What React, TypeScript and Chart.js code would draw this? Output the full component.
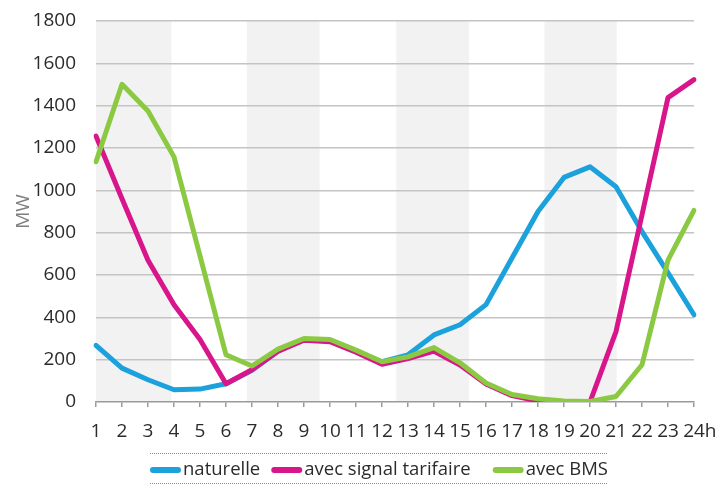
import { useEffect, useRef } from 'react';
import { Chart, registerables } from 'chart.js';

Chart.register(...registerables);

// Hours of the day (the last one gets an "h" suffix drawn next to it)
const hourLabels = ['1', '2', '3', '4', '5', '6', '7', '8', '9', '10', '11', '12', '13', '14', '15', '16', '17', '18', '19', '20', '21', '22', '23', '24'];
const lastHourSuffix = 'h';

// Load curves in MW
const naturelle = [267, 160, 105, 58, 61, 86, 150, 240, 295, 290, 240, 190, 223, 317, 365, 460, 680, 900, 1061, 1111, 1017, 805, 610, 412];
const avecSignalTarifaire = [1256, 960, 670, 459, 295, 86, 152, 240, 292, 285, 235, 178, 205, 240, 175, 85, 30, 5, 0, 0, 333, 885, 1438, 1523];
const avecBms = [1135, 1501, 1375, 1158, 690, 223, 170, 250, 300, 295, 245, 190, 213, 257, 185, 90, 35, 15, 5, 2, 26, 176, 670, 905];

const seriesNames = ['naturelle', 'avec signal tarifaire', 'avec BMS'];
const seriesColors = ['#1ba1db', '#d9158c', '#8cc943'];

// Y axis range
const yMin = 0;
const yMax = 1800;
const yStep = 200;
const yTitle = 'MW';

// Shaded time windows, in hours
const shadedWindows: [number, number][] = [
  [1, 3.9],
  [6.8, 9.6],
  [12.55, 15.35],
  [18.25, 21.03],
];

const FONT = '"Open Sans", "DejaVu Sans", sans-serif';
const FONT_SIZE = 19;
const LEGEND_FONT_SIZE = 18.5;
const TEXT_COLOR = '#2b2b2b';

const bandsPlugin = {
  id: 'shadedBands',
  beforeDraw(chart: any) {
    const { ctx, chartArea } = chart;
    const x = chart.scales.x;
    ctx.save();
    ctx.fillStyle = '#f2f2f2';
    for (const [a, b] of shadedWindows) {
      const x0 = x.getPixelForValue(a - 1);
      const x1 = x.getPixelForValue(b - 1);
      ctx.fillRect(x0, chartArea.top, x1 - x0, chartArea.bottom - chartArea.top);
    }
    ctx.restore();
  },
};

const suffixPlugin = {
  id: 'hourSuffix',
  afterDraw(chart: any) {
    const { ctx } = chart;
    const x = chart.scales.x;
    const last = hourLabels.length - 1;
    ctx.save();
    ctx.font = `${FONT_SIZE}px ${FONT}`;
    ctx.fillStyle = TEXT_COLOR;
    ctx.textAlign = 'left';
    ctx.textBaseline = 'middle';
    const w = ctx.measureText(hourLabels[last]).width;
    const cx = x.getPixelForValue(last);
    // same vertical centre as the tick labels: axis + tick length + padding + half line height
    const cy = chart.chartArea.bottom + 5 + 13 + (FONT_SIZE * 1.2) / 2;
    ctx.fillText(lastHourSuffix, cx + w / 2, cy);
    ctx.restore();
  },
};

const legendPlugin = {
  id: 'dottedLegend',
  afterDraw(chart: any) {
    const { ctx, chartArea } = chart;
    const left = chartArea.left + 54;
    const width = 457;
    const topLine = chartArea.bottom + 51;
    const bottomLine = chartArea.bottom + 81;
    const midY = chartArea.bottom + 68;
    ctx.save();
    // dotted rules above and below the legend
    ctx.strokeStyle = '#8c8c8c';
    ctx.lineWidth = 1;
    ctx.setLineDash([1, 1]);
    for (const y of [topLine, bottomLine]) {
      ctx.beginPath();
      ctx.moveTo(left, y + 0.5);
      ctx.lineTo(left + width, y + 0.5);
      ctx.stroke();
    }
    ctx.setLineDash([]);
    ctx.font = `${LEGEND_FONT_SIZE}px ${FONT}`;
    ctx.textBaseline = 'middle';
    ctx.textAlign = 'left';
    const gaps = [11, 22];
    let cx = left + 3;
    chart.data.datasets.forEach((ds: any, i: number) => {
      ctx.strokeStyle = ds.borderColor;
      ctx.lineWidth = 6;
      ctx.lineCap = 'round';
      ctx.beginPath();
      ctx.moveTo(cx, midY);
      ctx.lineTo(cx + 25, midY);
      ctx.stroke();
      cx += 30;
      ctx.fillStyle = TEXT_COLOR;
      ctx.fillText(ds.label, cx, midY);
      cx += ctx.measureText(ds.label).width + (gaps[i] ?? 0) + 3;
    });
    ctx.restore();
  },
};

export default function App() {
  const canvasRef = useRef<HTMLCanvasElement | null>(null);

  useEffect(() => {
    document.body.style.margin = '0';
    const canvas = canvasRef.current;
    if (!canvas) return;
    const seriesData = [naturelle, avecSignalTarifaire, avecBms];
    const chart = new Chart(canvas, {
      type: 'line',
      data: {
        labels: hourLabels,
        datasets: seriesData.map((d, i) => ({
          label: seriesNames[i],
          data: d,
          borderColor: seriesColors[i],
          backgroundColor: seriesColors[i],
          borderWidth: 5,
          pointRadius: 0,
          tension: 0,
          borderCapStyle: 'round',
          borderJoinStyle: 'round',
          order: 3 - i,
        })),
      },
      options: {
        animation: false,
        responsive: false,
        layout: { padding: { top: 21, right: 24, bottom: 44, left: 0 } },
        plugins: {
          legend: { display: false },
          tooltip: { enabled: false },
        },
        scales: {
          x: {
            offset: false,
            grid: {
              drawOnChartArea: false,
              drawTicks: true,
              tickLength: 5,
              color: '#9a9a9a',
              lineWidth: 1.5,
            },
            border: { display: true, color: '#9a9a9a', width: 1.5 },
            ticks: {
              color: TEXT_COLOR,
              font: { family: FONT, size: FONT_SIZE },
              padding: 13,
              maxRotation: 0,
              autoSkip: false,
            },
            afterFit(scale: any) {
              scale.height = 40;
            },
          },
          y: {
            min: yMin,
            max: yMax,
            ticks: {
              stepSize: yStep,
              color: TEXT_COLOR,
              font: { family: FONT, size: FONT_SIZE },
              padding: 20,
              callback: (v: any) => String(v),
            },
            grid: {
              drawTicks: false,
              color: (c: any) => (c.tick && c.tick.value === 0 ? 'rgba(0,0,0,0)' : '#c4c4c4'),
              lineWidth: 1.5,
            },
            border: { display: false },
            title: {
              display: true,
              text: yTitle,
              color: '#7f7f7f',
              font: { family: FONT, size: 19 },
              padding: { top: 12, bottom: 0 },
            },
            afterFit(scale: any) {
              scale.width = 96;
              scale.paddingTop = 0;
              scale.paddingBottom = 0;
            },
          },
        },
      },
      plugins: [bandsPlugin, suffixPlugin, legendPlugin],
    });
    return () => chart.destroy();
  }, []);

  return (
    <div style={{ width: 718, height: 486 }}>
      <canvas ref={canvasRef} width={718} height={486} />
    </div>
  );
}
